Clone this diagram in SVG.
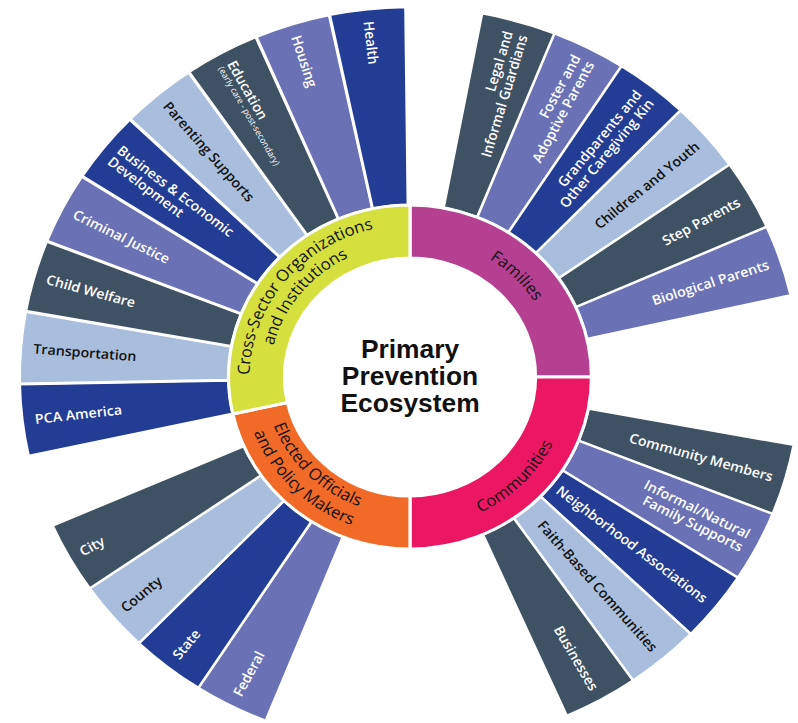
<svg xmlns="http://www.w3.org/2000/svg" width="798" height="723" viewBox="0 0 798 723">
<style>
.dk{fill:#3f5263}.lt{fill:#a9bedc}.bl{fill:#233d95}.lv{fill:#6a72b5}
.w{stroke:#fff;stroke-width:2.5}
.rg{stroke:#fff;stroke-width:3}
.t{font-family:"Open Sans","Liberation Sans",sans-serif;font-size:13.5px;font-weight:600}
.tw{fill:#fff}.tb{fill:#111}
.sub{font-size:8.5px;font-weight:500}
.rl{font-family:"Open Sans","Liberation Sans",sans-serif;font-size:16px;font-weight:500;fill:#111}
.ti{font-family:"Liberation Sans",Arial,sans-serif;font-size:25px;font-weight:bold;fill:#111;text-anchor:middle}
</style>
<defs>
<path id="w" d="M-16.78,-171.18 L-36.10,-368.24 A370,370 0 0 1 36.10,-368.24 L16.78,-171.18 A172,172 0 0 0 -16.78,-171.18Z"/>
<path id="pFam" d="M0,-140 A140,140 0 0 1 140,0"/>
<path id="pCross1" d="M-148.45,32.64 A152,152 0 0 1 0,-152"/>
<path id="pCross2" d="M-129.89,28.56 A133,133 0 0 1 0,-133"/>
<path id="pComm" d="M0,151 A151,151 0 0 0 151,0"/>
<path id="pElec1" d="M-135.90,23.96 A138,138 0 0 0 -23.96,135.90"/>
<path id="pElec2" d="M-155.59,27.43 A158,158 0 0 0 -27.43,155.59"/>
</defs>
<rect width="798" height="723" fill="#fff"/>
<g transform="translate(410,377) scale(1.055,1)">
  <g id="pca-america" transform="rotate(263.26)"><use href="#w" class="bl w"/><text class="t tw" transform="rotate(90)" x="-358" y="5">PCA America</text></g>
  <g id="transportation" transform="rotate(274.57)"><use href="#w" class="lt w"/><text class="t tb" transform="rotate(90)" x="-358" y="5">Transportation</text></g>
  <g id="child-welfare" transform="rotate(285.88)"><use href="#w" class="dk w"/><text class="t tw" transform="rotate(90)" x="-358" y="5">Child Welfare</text></g>
  <g id="criminal-justice" transform="rotate(297.19)"><use href="#w" class="lv w"/><text class="t tw" transform="rotate(90)" x="-358" y="5">Criminal Justice</text></g>
  <g id="business-economic" transform="rotate(308.5)"><use href="#w" class="bl w"/><text class="t tw" transform="rotate(90)"><tspan x="-358" y="-2.5">Business &amp; Economic</tspan><tspan x="-358" y="12">Development</tspan></text></g>
  <g id="parenting-supports" transform="rotate(319.81)"><use href="#w" class="lt w"/><text class="t tb" transform="rotate(90)" x="-358" y="5">Parenting Supports</text></g>
  <g id="education" transform="rotate(331.12)"><use href="#w" class="dk w"/><text class="t tw" transform="rotate(90)"><tspan x="-358" y="1">Education</tspan><tspan class="sub" x="-358" y="10.5">(early care - post-secondary)</tspan></text></g>
  <g id="housing" transform="rotate(342.43)"><use href="#w" class="lv w"/><text class="t tw" transform="rotate(90)" x="-358" y="5">Housing</text></g>
  <g id="health" transform="rotate(353.74)"><use href="#w" class="bl w"/><text class="t tw" transform="rotate(90)" x="-358" y="5">Health</text></g>
  <g id="legal-guardians" transform="rotate(16.24)"><use href="#w" class="dk w"/><text class="t tw" transform="rotate(-90)" text-anchor="end"><tspan x="358" y="-2.5">Legal and</tspan><tspan x="358" y="12">Informal Guardians</tspan></text></g>
  <g id="foster-adoptive" transform="rotate(27.32)"><use href="#w" class="lv w"/><text class="t tw" transform="rotate(-90)" text-anchor="end"><tspan x="358" y="-2.5">Foster and</tspan><tspan x="358" y="12">Adoptive Parents</tspan></text></g>
  <g id="grandparents" transform="rotate(38.4)"><use href="#w" class="bl w"/><text class="t tw" transform="rotate(-90)" text-anchor="end"><tspan x="358" y="-2.5">Grandparents and</tspan><tspan x="358" y="12">Other Caregiving Kin</tspan></text></g>
  <g id="children-youth" transform="rotate(49.48)"><use href="#w" class="lt w"/><text class="t tb" transform="rotate(-90)" x="358" y="5" text-anchor="end">Children and Youth</text></g>
  <g id="step-parents" transform="rotate(60.56)"><use href="#w" class="dk w"/><text class="t tw" transform="rotate(-90)" x="358" y="5" text-anchor="end">Step Parents</text></g>
  <g id="biological-parents" transform="rotate(71.64)"><use href="#w" class="lv w"/><text class="t tw" transform="rotate(-90)" x="358" y="5" text-anchor="end">Biological Parents</text></g>
  <g id="community-members" transform="rotate(106.17)"><use href="#w" class="dk w"/><text class="t tw" transform="rotate(-90)" x="358" y="5" text-anchor="end">Community Members</text></g>
  <g id="informal-natural" transform="rotate(117.31)"><use href="#w" class="lv w"/><text class="t tw" transform="rotate(-90)" text-anchor="end"><tspan x="358" y="-2.5">Informal/Natural</tspan><tspan x="358" y="12">Family Supports</tspan></text></g>
  <g id="neighborhood" transform="rotate(128.45)"><use href="#w" class="bl w"/><text class="t tw" transform="rotate(-90)" x="358" y="5" text-anchor="end">Neighborhood Associations</text></g>
  <g id="faith-based" transform="rotate(139.59)"><use href="#w" class="lt w"/><text class="t tb" transform="rotate(-90)" x="358" y="5" text-anchor="end">Faith-Based Communities</text></g>
  <g id="businesses" transform="rotate(150.73)"><use href="#w" class="dk w"/><text class="t tw" transform="rotate(-90)" x="358" y="5" text-anchor="end">Businesses</text></g>
  <g id="federal" transform="rotate(207.28)"><use href="#w" class="lv w"/><text class="t tw" transform="rotate(90)" x="-358" y="5">Federal</text></g>
  <g id="state" transform="rotate(218.43)"><use href="#w" class="bl w"/><text class="t tw" transform="rotate(90)" x="-358" y="5">State</text></g>
  <g id="county" transform="rotate(229.58)"><use href="#w" class="lt w"/><text class="t tb" transform="rotate(90)" x="-358" y="5">County</text></g>
  <g id="city" transform="rotate(240.73)"><use href="#w" class="dk w"/><text class="t tw" transform="rotate(90)" x="-358" y="5">City</text></g>
  <g id="families">
    <path class="rg" fill="#b53f91" d="M0,-172 A172,172 0 0 1 172,0 L119,0 A119,119 0 0 0 0,-119Z"/>
    <text class="rl"><textPath href="#pFam" startOffset="50%" text-anchor="middle">Families</textPath></text>
  </g>
  <g id="communities">
    <path class="rg" fill="#ec1763" d="M172,0 A172,172 0 0 1 0,172 L0,119 A119,119 0 0 0 119,0Z"/>
    <text class="rl"><textPath href="#pComm" startOffset="50%" text-anchor="middle">Communities</textPath></text>
  </g>
  <g id="elected-officials">
    <path class="rg" fill="#f26a27" d="M0,172 A172,172 0 0 1 -167.99,36.94 L-116.22,25.55 A119,119 0 0 0 0,119Z"/>
    <text class="rl"><textPath href="#pElec1" startOffset="50%" text-anchor="middle">Elected Officials</textPath></text>
    <text class="rl"><textPath href="#pElec2" startOffset="50%" text-anchor="middle">and Policy Makers</textPath></text>
  </g>
  <g id="cross-sector">
    <path class="rg" fill="#d5df3d" d="M-167.99,36.94 A172,172 0 0 1 0,-172 L0,-119 A119,119 0 0 0 -116.22,25.55Z"/>
    <text class="rl"><textPath href="#pCross1" startOffset="50%" text-anchor="middle">Cross-Sector Organizations</textPath></text>
    <text class="rl"><textPath href="#pCross2" startOffset="50%" text-anchor="middle">and Institutions</textPath></text>
  </g>
  <g id="center-title">
    <text class="ti" x="0" y="-19">Primary</text>
    <text class="ti" x="0" y="8">Prevention</text>
    <text class="ti" x="0" y="35">Ecosystem</text>
  </g>
</g>
</svg>
